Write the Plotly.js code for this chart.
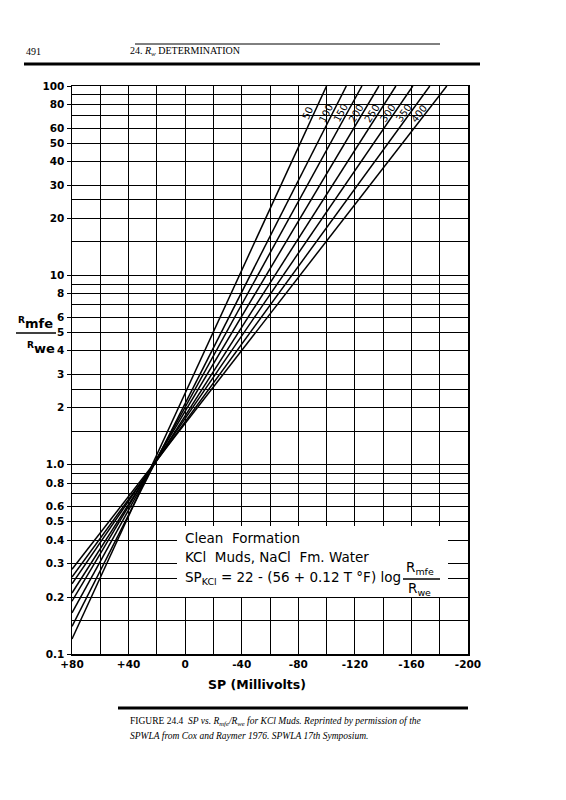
<!DOCTYPE html>
<html><head><meta charset="utf-8">
<script src="https://cdn.plot.ly/plotly-3.0.1.min.js"></script>
<style>html,body{margin:0;padding:0;background:#fff;}#chart{width:566px;height:800px;}</style>
</head><body><div id="chart"></div>
<script>
// ---- data ----
const temperatures = [50, 100, 150, 200, 250, 300, 350, 400];          // deg F
const ratioAtPlus80 = [0.12, 0.14, 0.165, 0.19, 0.21, 0.235, 0.255, 0.28]; // Rmfe/Rwe where each line meets SP = +80
const spAtRatio100 = [-100, -114, -125, -137, -149, -161, -173, -185];  // SP where each line meets Rmfe/Rwe = 100
const xTickVals = [80, 40, 0, -40, -80, -120, -160, -200];
const xTickText = ['+80', '+40', '0', '-40', '-80', '-120', '-160', '-200'];
const xGridVals = [60, 20, -20, -60, -100, -140, -180];
const yTickVals = [0.1, 0.2, 0.3, 0.4, 0.5, 0.6, 0.8, 1, 2, 3, 4, 5, 6, 8, 10, 20, 30, 40, 50, 60, 80, 100];
const yTickText = ['0.1', '0.2', '0.3', '0.4', '0.5', '0.6', '0.8', '1.0', '2', '3', '4', '5', '6', '8', '10', '20', '30', '40', '50', '60', '80', '100'];
const yGridVals = [0.15, 0.25, 0.7, 0.9, 1.5, 2.5, 7, 9, 15, 25, 70, 90];

// ---- layout geometry ----
const W = 566, H = 800;
const M = {l: 72, r: 98, t: 86, b: 146};
const pw = W - M.l - M.r, ph = H - M.t - M.b;
const PX = x => (x - M.l) / pw;
const PY = y => (H - M.b - y) / ph;
const FONT = 'DejaVu Sans, sans-serif';

const traces = temperatures.map((t, i) => ({
  type: 'scatter', mode: 'lines',
  x: [80, spAtRatio100[i]], y: [ratioAtPlus80[i], 100],
  line: {color: '#000', width: 1.5}, hoverinfo: 'skip', showlegend: false
}));

// label each line near its top end, just to its left, rotated along the line
const labelR = 72;
const annotations = temperatures.map((t, i) => {
  const l0 = Math.log10(ratioAtPlus80[i]), l1 = 2;
  const f = (Math.log10(labelR) - l0) / (l1 - l0);
  const sp = 80 + (spAtRatio100[i] - 80) * f;
  const dxPix = (80 - spAtRatio100[i]) * pw / 280;
  const dyPix = (l1 - l0) * ph / 3;
  const ang = Math.atan2(dyPix, dxPix) * 180 / Math.PI;
  return {x: sp, y: Math.log10(labelR), xref: 'x', yref: 'y', text: String(t), showarrow: false,
    textangle: -ang, xshift: -7, font: {family: FONT, size: 10, color: '#000'}};
});

const txt = (x, y, text, size, opts) => Object.assign({x: PX(x), y: PY(y), xref: 'paper', yref: 'paper', text: text,
  showarrow: false, xanchor: 'left', yanchor: 'middle', font: {family: FONT, size: size, color: '#000'}}, opts || {});
const serif = s => ({font: {family: 'Liberation Serif, serif', size: s, color: '#000'}});
const bold = s => ({font: {family: FONT, size: s, color: '#000', weight: 'bold'}});

annotations.push(
  txt(183, 538, 'Clean  Formation', 13.5),
  txt(183, 557, 'KCl  Muds, NaCl  Fm. Water', 13.5),
  txt(183, 578, 'SP<sub>KCl</sub> = 22 - (56 + 0.12 T °F) log', 13.5),
  txt(404, 568, 'R<sub>mfe</sub>', 13.5),
  txt(406, 589, 'R<sub>we</sub>', 13.5),
  txt(16, 323, '<sup>R</sup>mfe', 13, bold(13)),
  txt(25, 348, '<sup>R</sup>we', 13, bold(13)),
  txt(257, 684, 'SP (Millivolts)', 12.5, Object.assign({xanchor: 'center'}, bold(12.5))),
  txt(24, 52, '491', 10, serif(10)),
  txt(128, 52, '24. <i>R<sub>w</sub></i> DETERMINATION', 10, serif(10)),
  txt(128, 721, 'FIGURE 24.4  <i>SP vs. R<sub>mfe</sub>/R<sub>we</sub> for KCl Muds. Reprinted by permission of the</i>', 9.5, serif(9.5)),
  txt(128, 736, '<i>SPWLA from Cox and Raymer 1976. SPWLA 17th Symposium.</i>', 9.5, serif(9.5))
);

const shapes = [
  // white box behind the equation text
  {type: 'rect', xref: 'paper', yref: 'paper', x0: PX(177), x1: PX(448), y0: PY(526), y1: PY(597),
   fillcolor: '#ffffff', line: {width: 0}, layer: 'above'},
  // fraction bars
  {type: 'line', xref: 'paper', yref: 'paper', x0: PX(403), x1: PX(440), y0: PY(579), y1: PY(579), line: {color: '#000', width: 1.5}},
  {type: 'line', xref: 'paper', yref: 'paper', x0: PX(16), x1: PX(56), y0: PY(333), y1: PY(333), line: {color: '#000', width: 1.5}},
  // page rules
  {type: 'line', xref: 'paper', yref: 'paper', x0: PX(135), x1: PX(440), y0: PY(44), y1: PY(44), line: {color: '#000', width: 1}},
  {type: 'line', xref: 'paper', yref: 'paper', x0: PX(24), x1: PX(480), y0: PY(64), y1: PY(64), line: {color: '#000', width: 3}},
  {type: 'line', xref: 'paper', yref: 'paper', x0: PX(118), x1: PX(468), y0: PY(708), y1: PY(708), line: {color: '#000', width: 3}}
];

const tickFont = {family: FONT, size: 10.5, color: '#000', weight: 'bold'};
const layout = {
  width: W, height: H, margin: M, paper_bgcolor: '#fff', plot_bgcolor: '#fff', showlegend: false,
  xaxis: {range: [80, -200], tickmode: 'array', tickvals: xTickVals, ticktext: xTickText, showgrid: true, gridcolor: '#000', gridwidth: 1,
    showline: true, linecolor: '#000', linewidth: 1.5, mirror: true, ticks: '', zeroline: false,
    minor: {tickmode: 'array', tickvals: xGridVals, showgrid: true, gridcolor: '#000', gridwidth: 1, ticks: ''},
    tickfont: tickFont},
  yaxis: {type: 'log', range: [-1, 2], tickmode: 'array', tickvals: yTickVals, ticktext: yTickText, showgrid: true, gridcolor: '#000', gridwidth: 1,
    showline: true, linecolor: '#000', linewidth: 1.5, mirror: true, ticks: 'outside', ticklen: 4, tickcolor: '#000',
    minor: {tickmode: 'array', tickvals: yGridVals, showgrid: true, gridcolor: '#000', gridwidth: 1, ticks: ''},
    zeroline: false, tickfont: tickFont},
  annotations: annotations, shapes: shapes
};

Plotly.newPlot('chart', traces, layout, {displayModeBar: false, staticPlot: true});
</script>
</body></html>
